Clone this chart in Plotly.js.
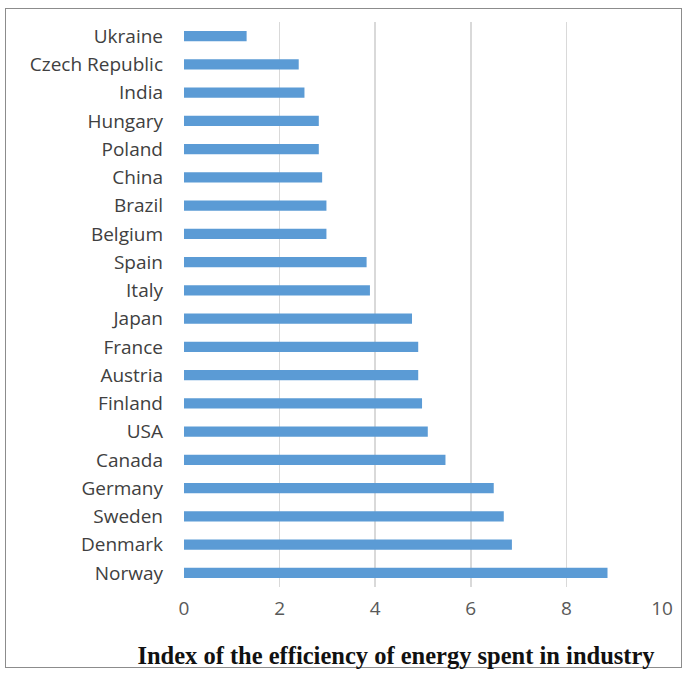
<!DOCTYPE html>
<html>
<head>
<meta charset="utf-8">
<script src="https://cdn.plot.ly/plotly-3.0.1.min.js"></script>
<style>
  html, body { margin: 0; padding: 0; background: #fff; }
  #frame { position: absolute; left: 5px; top: 8px; width: 675px; height: 658px; border: 1.5px solid #8c8c8c; }
  #chart { position: absolute; left: 0; top: 0; width: 687px; height: 675px; }
</style>
</head>
<body>
<div id="frame"></div>
<div id="chart"></div>
<script>
const countries = ["Ukraine", "Czech Republic", "India", "Hungary", "Poland", "China", "Brazil", "Belgium", "Spain", "Italy", "Japan", "France", "Austria", "Finland", "USA", "Canada", "Germany", "Sweden", "Denmark", "Norway"];
const values = [1.31, 2.40, 2.52, 2.82, 2.82, 2.89, 2.98, 2.98, 3.82, 3.89, 4.77, 4.90, 4.90, 4.98, 5.10, 5.47, 6.48, 6.69, 6.86, 8.86];
const xTicks = [0, 2, 4, 6, 8, 10];
const axisTitle = "Index of the efficiency of energy spent in industry";

const trace = {
  type: "bar",
  orientation: "h",
  y: countries,
  x: values,
  marker: { color: "#5B9BD5" },
  hoverinfo: "x+y"
};

const layout = {
  width: 687,
  height: 675,
  margin: { l: 184, r: 25, t: 22, b: 88 },
  paper_bgcolor: "rgba(0,0,0,0)",
  plot_bgcolor: "rgba(0,0,0,0)",
  bargap: 0.64,
  showlegend: false,
  font: { family: "Open Sans, sans-serif", size: 15, color: "#595959" },
  title: {
    text: "<b>" + axisTitle + "</b>",
    font: { family: "Liberation Serif, Times New Roman, serif", size: 24.5, color: "#111" },
    xref: "container", yref: "container",
    x: 396 / 687, xanchor: "center",
    y: 1 - 655 / 675, yanchor: "middle"
  },
  xaxis: {
    range: [0, 10],
    tickvals: xTicks,
    ticktext: xTicks.map(String),
    showgrid: true,
    gridcolor: "#d9d9d9",
    gridwidth: 1.5,
    zeroline: false,
    showline: false,
    ticks: "",
    ticklabelstandoff: 8,
    tickfont: { size: 19, color: "#595959" },
    fixedrange: true
  },
  yaxis: {
    type: "category",
    categoryorder: "array",
    categoryarray: countries,
    autorange: "reversed",
    showgrid: false,
    zeroline: false,
    showline: false,
    ticks: "",
    ticklabelstandoff: 20,
    tickfont: { size: 19, color: "#404040" },
    fixedrange: true
  }
};

Plotly.newPlot("chart", [trace], layout, { displayModeBar: false, staticPlot: true });
</script>
</body>
</html>
